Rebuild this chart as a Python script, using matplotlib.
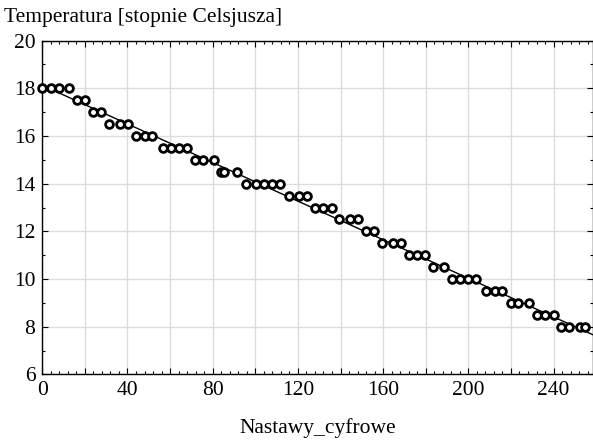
import numpy as np
import matplotlib
matplotlib.use("Agg")
import matplotlib.pyplot as plt
from matplotlib.ticker import MultipleLocator, FuncFormatter

plt.rcParams['font.family'] = ['Liberation Serif', 'DejaVu Serif']

nastawy = [0, 4, 7.7, 12.7,
           16.5, 20.2,
           24, 27.7,
           31.5, 36.5, 40.3,
           44, 48, 51.6,
           56.6, 60.4, 64.1, 67.9,
           71.7, 75.4, 80.4,
           83.8, 85.5, 91.5,
           95.5, 100.5, 104.2, 108, 111.8,
           115.7, 120.6, 124.3,
           128.2, 132, 135.8,
           139.5, 144.5, 148.3,
           152, 155.8,
           159.6, 164.6, 168.3,
           172, 175.8, 179.6,
           183.5, 188.4,
           192.2, 196, 199.7, 203.5,
           208.5, 212.3, 216,
           219.8, 223.5, 228.5,
           232.4, 236.2, 240,
           243.6, 247.3, 252.4, 254.9]
temperatura = [18, 18, 18, 18,
               17.5, 17.5,
               17, 17,
               16.5, 16.5, 16.5,
               16, 16, 16,
               15.5, 15.5, 15.5, 15.5,
               15, 15, 15,
               14.5, 14.5, 14.5,
               14, 14, 14, 14, 14,
               13.5, 13.5, 13.5,
               13, 13, 13,
               12.5, 12.5, 12.5,
               12, 12,
               11.5, 11.5, 11.5,
               11, 11, 11,
               10.5, 10.5,
               10, 10, 10, 10,
               9.5, 9.5, 9.5,
               9, 9, 9,
               8.5, 8.5, 8.5,
               8, 8, 8, 8]

x = np.array(nastawy)
y = np.array(temperatura)

fig = plt.figure(figsize=(5.93, 4.41), dpi=100)
ax = fig.add_axes([0.0713, 0.1508, 0.9287, 0.7572])

a, b = np.polyfit(x, y, 1)
xl = np.array([0, 258.5])
ax.plot(xl, a * xl + b, color='black', lw=1.0, zorder=2)
ax.plot(x, y, linestyle='none', marker='o', markersize=5.6,
        markerfacecolor='white', markeredgecolor='black', markeredgewidth=2.0,
        zorder=3, clip_on=False)

ax.set_xlim(0, 258.5)
ax.set_ylim(6, 20)
ax.xaxis.set_major_locator(MultipleLocator(20))
ax.xaxis.set_minor_locator(MultipleLocator(4))
ax.yaxis.set_major_locator(MultipleLocator(2))
ax.yaxis.set_minor_locator(MultipleLocator(1))
ax.xaxis.set_major_formatter(FuncFormatter(lambda v, p: f"{int(round(v))}" if round(v) % 40 == 0 else ""))
ax.yaxis.set_major_formatter(FuncFormatter(lambda v, p: f"{int(round(v))}"))
ax.grid(True, which='major', color='#dddddd', lw=1.0, zorder=0)
ax.set_axisbelow(True)
ax.tick_params(which='both', direction='in', top=True, right=True, labelsize=15.5, color='black', width=0.8)
ax.tick_params(which='major', length=4)
ax.tick_params(axis='x', which='major', pad=5)
ax.tick_params(axis='y', which='major', pad=5)
ax.tick_params(which='minor', length=2.5)
for s in ax.spines.values():
    s.set_linewidth(1.0)
    s.set_color('black')

fig.text(0.007, 0.950, "Temperatura [stopnie Celsjusza]", fontsize=15.5, ha='left', va='baseline')
ax.set_xlabel("Nastawy_cyfrowe", fontsize=15.5, labelpad=13)

fig.savefig("out.png", dpi=100)
